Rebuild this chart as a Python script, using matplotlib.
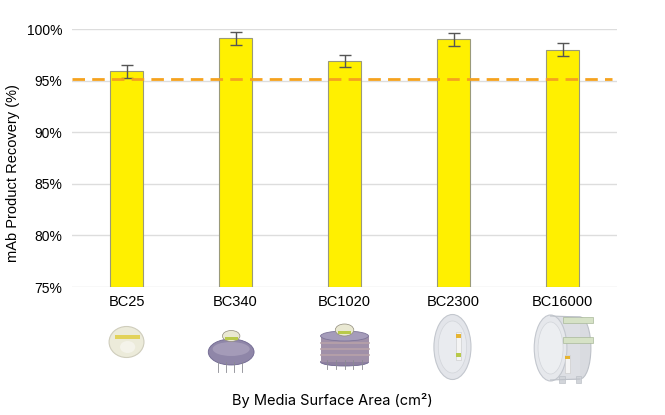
import matplotlib.pyplot as plt
from matplotlib.patches import Ellipse, Rectangle

plt.rcParams["font.family"] = ["Liberation Sans", "DejaVu Sans"]

# data
products = ["BC25", "BC340", "BC1020", "BC2300", "BC16000"]
recovery = [95.9, 99.1, 96.9, 99.0, 98.0]
recovery_err = [0.6, 0.6, 0.6, 0.6, 0.6]
target = 95.2
y_ticks = [75, 80, 85, 90, 95, 100]

fig = plt.figure(figsize=(6.65, 4.15), dpi=100)
ax = fig.add_axes([0.1083, 0.3084, 0.8196, 0.6216])

x = list(range(len(products)))
ax.bar(x, [r - 75 for r in recovery], bottom=75, width=0.31,
       color="#FFF000", edgecolor="#9A9A7A", linewidth=0.8, zorder=3)
ax.errorbar(x, recovery, yerr=recovery_err, fmt="none", ecolor="#555555",
            elinewidth=1, capsize=4, capthick=1, zorder=4)
ax.axhline(target, xmin=0, xmax=0.99, color="#F5A21E", linewidth=2,
           dashes=(4.5, 2.6), zorder=5)

ax.set_xlim(-0.5, 4.5)
ax.set_ylim(75, 100)
ax.set_yticks(y_ticks)
ax.set_yticklabels([f"{t}%" for t in y_ticks], fontsize=10)
ax.set_xticks(x)
ax.set_xticklabels(products, fontsize=10.5)
ax.tick_params(length=0, pad=7)
ax.tick_params(axis="x", pad=6)
ax.grid(axis="y", color="#DDDDDD", linewidth=1, zorder=0)
for s in ax.spines.values():
    s.set_visible(False)
ax.set_ylabel("mAb Product Recovery (%)", fontsize=10.5)
ax.yaxis.set_label_coords(-0.095, 0.44)

fig.text(0.5, 1 - 400 / 415, "By Media Surface Area (cm²)", ha="center",
         va="center", fontsize=10.5, family=["Inter", "DejaVu Sans"])

# rough sketches of the product units below the tick labels
# (x in category units, y in pixels from the top of the figure)
pax = fig.add_axes([0.1083, 1 - 395 / 415, 0.8196, 90 / 415])
pax.set_xlim(-0.5, 4.5)
pax.set_ylim(395, 305)
pax.axis("off")

# BC25
pax.add_patch(Ellipse((0, 342), 0.32, 31, facecolor="#ECEBDA", edgecolor="#CFCDBC", lw=0.8))
pax.add_patch(Ellipse((0.01, 347), 0.14, 12, facecolor="#F4F3EA", edgecolor="none"))
pax.add_patch(Rectangle((-0.11, 335), 0.23, 4, facecolor="#E2D25A", edgecolor="none"))

# BC340
for dx in (-0.12, -0.05, 0.03, 0.1):
    pax.plot([1 - 0.04 + dx] * 2, [362, 372], color="#8A8A92", lw=0.6)
pax.add_patch(Ellipse((0.96, 352), 0.42, 26, facecolor="#8F86A8", edgecolor="#6F6790", lw=0.6))
pax.add_patch(Ellipse((0.96, 349), 0.34, 14, facecolor="#A49BB8", edgecolor="none"))
pax.add_patch(Ellipse((0.96, 336), 0.16, 11, facecolor="#E9E8D2", edgecolor="#8F8A7A", lw=0.5))
pax.add_patch(Rectangle((0.90, 337), 0.12, 3, facecolor="#B8C94A", edgecolor="none"))

# BC1020
for dx in (-0.16, -0.08, 0.0, 0.08, 0.16):
    pax.plot([2 + dx] * 2, [360, 369], color="#8A8A92", lw=0.6)
pax.add_patch(Ellipse((2, 362), 0.44, 8, facecolor="#8E80A0", edgecolor="#6F6790", lw=0.6))
pax.add_patch(Rectangle((1.78, 336), 0.44, 26, facecolor="#A090A8", edgecolor="none"))
for yy in (343, 349, 355):
    pax.plot([1.78, 2.22], [yy, yy], color="#B8A2A8", lw=1.2)
pax.add_patch(Ellipse((2, 336), 0.44, 10, facecolor="#A59CBA", edgecolor="#7E7699", lw=0.6))
pax.add_patch(Ellipse((2, 330), 0.17, 12, facecolor="#E9E8D2", edgecolor="#8F8A7A", lw=0.5))
pax.add_patch(Rectangle((1.94, 331), 0.12, 3, facecolor="#B8C94A", edgecolor="none"))

# BC2300
pax.add_patch(Ellipse((2.99, 347), 0.34, 65, facecolor="#E3E5EA", edgecolor="#C3C7CE", lw=0.8))
pax.add_patch(Ellipse((2.99, 347), 0.26, 52, facecolor="#E9EBEF", edgecolor="#D2D5DA", lw=0.5))
pax.add_patch(Rectangle((3.02, 332), 0.05, 28, facecolor="#F4F4F4", edgecolor="#C8C8C8", lw=0.4))
pax.add_patch(Rectangle((3.02, 334), 0.05, 4, facecolor="#E6B431", edgecolor="none"))
pax.add_patch(Rectangle((3.02, 353), 0.05, 4, facecolor="#B8C94A", edgecolor="none"))

# BC16000
pax.add_patch(Ellipse((4.16, 348), 0.2, 62, facecolor="#D9DBE0", edgecolor="#BDC1C8", lw=0.8))
pax.add_patch(Rectangle((3.89, 316), 0.27, 64, facecolor="#DDDFE4", edgecolor="none"))
pax.plot([3.89, 4.16], [316, 317], color="#BDC1C8", lw=0.8)
pax.plot([3.89, 4.16], [380, 379], color="#BDC1C8", lw=0.8)
pax.add_patch(Rectangle((3.97, 376), 0.05, 7, facecolor="#D2D5DA", edgecolor="#BDC1C8", lw=0.5))
pax.add_patch(Rectangle((4.12, 376), 0.05, 7, facecolor="#D2D5DA", edgecolor="#BDC1C8", lw=0.5))
pax.add_patch(Ellipse((3.89, 348), 0.30, 66, facecolor="#E6E8EC", edgecolor="#C3C7CE", lw=0.8))
pax.add_patch(Ellipse((3.89, 348), 0.23, 52, facecolor="#ECEEF1", edgecolor="#D2D5DA", lw=0.5))
pax.add_patch(Rectangle((4.02, 355), 0.05, 18, facecolor="#F4F4F4", edgecolor="#C8C8C8", lw=0.4))
pax.add_patch(Rectangle((4.02, 356), 0.05, 3, facecolor="#E6B431", edgecolor="none"))
pax.add_patch(Rectangle((4.0, 317), 0.28, 6, facecolor="#D6E2C6", edgecolor="#A9B89A", lw=0.5))
pax.add_patch(Rectangle((4.0, 337), 0.28, 6, facecolor="#D6E2C6", edgecolor="#A9B89A", lw=0.5))

fig.savefig("out.png", dpi=100)
